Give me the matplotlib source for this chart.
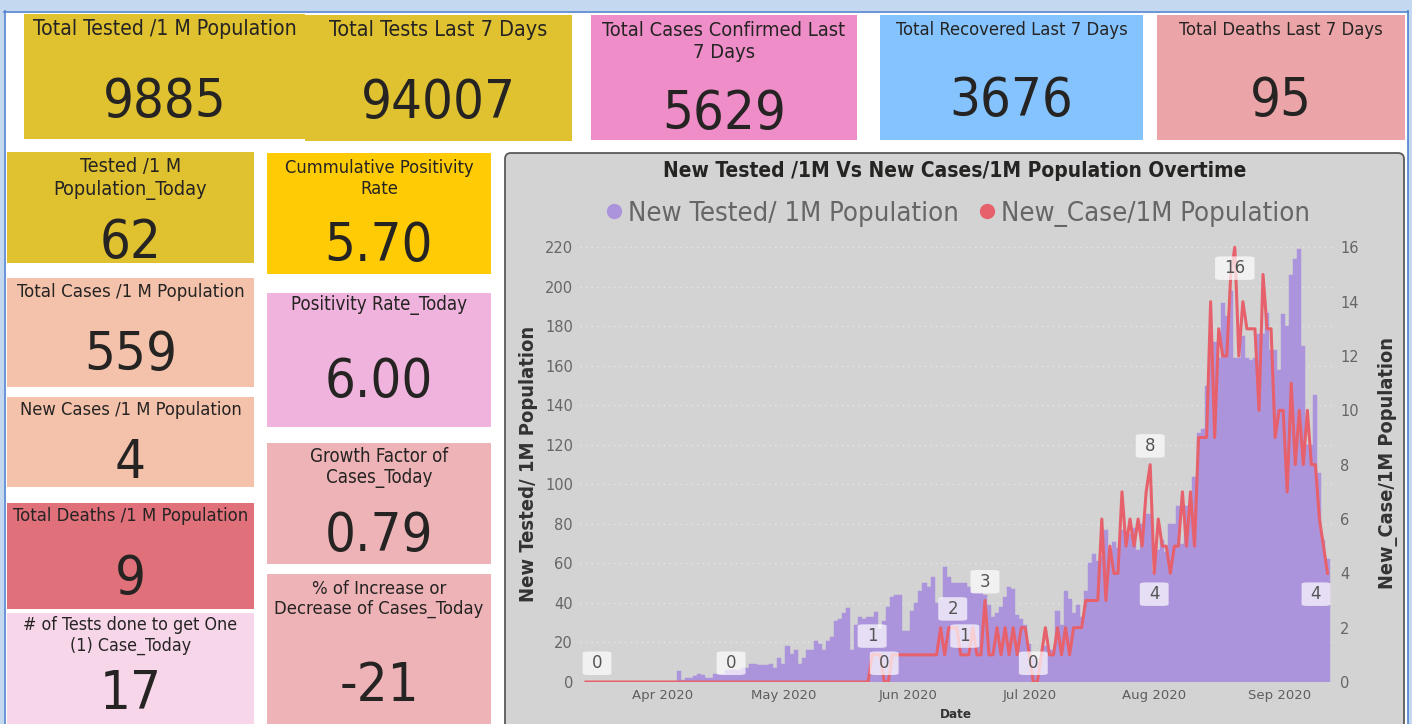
import matplotlib
matplotlib.use('Agg')
import matplotlib.pyplot as plt
import matplotlib.dates as mdates
import matplotlib.font_manager as fm
from matplotlib.patches import Rectangle, FancyBboxPatch
from matplotlib.lines import Line2D
import pandas as pd

# ---------------- data ----------------
start_date = '2020-03-13'

new_tested_per_1m = [
    0, 0, 0, 0, 0, 0, 0, 0, 0, 0,
    0, 0, 0, 0, 0, 0, 0, 0, 0, 0,
    0, 0, 0, 5.5, 1, 2, 2, 3, 4, 3.5,
    2, 2, 4, 4, 4, 6, 6, 6, 6, 7,
    7, 9, 9, 8.5, 8.5, 8.5, 9, 7, 12, 9,
    18, 14, 16, 9, 12, 16, 16, 21, 19, 16,
    21, 23, 31, 32, 35, 37.5, 16, 29, 33, 32,
    33, 33, 35.5, 27, 31, 38, 43, 44, 44, 26,
    26, 36, 40, 46, 50, 48, 53, 40, 42, 58,
    53, 50, 50, 50, 50, 48, 45, 45, 45, 44,
    39, 33, 35, 38, 43, 48, 47, 34, 32, 29,
    19, 12, 10, 12, 18, 16, 16, 36, 29, 46,
    42, 35, 39, 33, 46, 60, 65, 61, 64, 77,
    67, 71, 68, 77, 73, 75, 78, 67, 80, 85,
    85, 56, 67, 72, 66, 80, 80, 89, 70, 89,
    89, 104, 126, 128, 150, 172, 172, 164, 192, 185,
    198, 164, 164, 175, 164, 163, 164, 176, 176, 187,
    168, 168, 158, 186, 180, 206, 214, 219, 170, 120,
    120, 145, 106, 72, 62,
]

new_cases_per_1m = [
    0, 0, 0, 0, 0, 0, 0, 0, 0, 0,
    0, 0, 0, 0, 0, 0, 0, 0, 0, 0,
    0, 0, 0, 0, 0, 0, 0, 0, 0, 0,
    0, 0, 0, 0, 0, 0, 0, 0, 0, 0,
    0, 0, 0, 0, 0, 0, 0, 0, 0, 0,
    0, 0, 0, 0, 0, 0, 0, 0, 0, 0,
    0, 0, 0, 0, 0, 0, 0, 0, 0, 0,
    0, 1, 1, 1, 0, 0, 1, 1, 1, 1,
    1, 1, 1, 1, 1, 1, 1, 1, 2, 1,
    2, 2, 2, 1, 1, 1, 2, 1, 1, 3,
    1, 1, 2, 1, 2, 1, 2, 1, 2, 2,
    1, 0, 0, 1, 2, 1, 1, 2, 1, 2,
    1, 2, 2, 2, 3, 3, 3, 3, 6, 3,
    5, 4, 4, 7, 5, 6, 5, 6, 5, 7,
    8, 4, 6, 5, 5, 4, 5, 5, 7, 5,
    7, 5, 9, 9, 9, 14, 9, 13, 12, 12,
    15, 16, 12, 14, 13, 13, 13, 10, 15, 13,
    13, 9, 10, 10, 7, 11, 8, 10, 8, 10,
    8, 8, 6, 5, 4,
]

labelled_points = [0, 36, 71, 74, 91, 94, 99, 111, 140, 141, 161, 184]

left_ticks = [0, 20, 40, 60, 80, 100, 120, 140, 160, 180, 200, 220]
right_ticks = [0, 2, 4, 6, 8, 10, 12, 14, 16]

kpi_titles = [
    "Total Tested /1 M Population",
    "Total Tests Last 7 Days",
    "Total Cases Confirmed Last\n7 Days",
    "Total Recovered Last 7 Days",
    "Total Deaths Last 7 Days",
    "Tested /1 M\nPopulation_Today",
    "Total Cases /1 M Population",
    "New Cases /1 M Population",
    "Total Deaths /1 M Population",
    "# of Tests done to get One\n(1) Case_Today",
    "Cummulative Positivity\nRate",
    "Positivity Rate_Today",
    "Growth Factor of\nCases_Today",
    "% of Increase or\nDecrease of Cases_Today",
]
kpi_values = ["9885", "94007", "5629", "3676", "95", "62", "559", "4", "9",
              "17", "5.70", "6.00", "0.79", "-21"]

chart_title = "New Tested /1M Vs New Cases/1M Population Overtime"
series_names = ["New Tested/ 1M Population", "New_Case/1M Population"]
axis_titles = ["New Tested/ 1M Population", "New_Case/1M Population", "Date"]

# ---------------- fonts ----------------
def pick_font():
    fl = fm.fontManager.ttflist
    for f in fl:
        if f.name == 'DejaVu Sans' and str(f.stretch) in ('condensed', 'semi-condensed'):
            return dict(family='DejaVu Sans', stretch='condensed'), True
    names = {f.name for f in fl}
    if 'Liberation Sans Narrow' in names:
        return dict(family='Liberation Sans Narrow'), True
    return dict(family='DejaVu Sans'), False

FONT, CONDENSED = pick_font()

# ---------------- canvas ----------------
W, H = 1412, 724
fig = plt.figure(figsize=(W / 100, H / 100), dpi=100)
fig.patch.set_facecolor('white')
L = fig.add_axes([0, 0, 1, 1])
L.set_xlim(0, W)
L.set_ylim(H, 0)
L.axis('off')
R = fig.canvas.get_renderer()

DARK = '#252423'
GREY = '#666666'


def size_for_width(s, target, weight='normal'):
    t = L.text(0, 0, s, fontsize=20, weight=weight, **FONT)
    w = t.get_window_extent(R).width
    t.remove()
    return 20.0 * target / w


def cap_text(x, yc, s, size, color=DARK, weight='normal'):
    cap = 0.73 * size * 100 / 72
    L.text(x, yc + cap / 2, s, ha='center', va='baseline', fontsize=size,
           color=color, weight=weight, **FONT)


# outer frame
FRAME_LIGHT = '#C4D8EF'
FRAME_LINE = '#4F81CE'
L.add_patch(Rectangle((0, 0), W, 11, fc=FRAME_LIGHT, ec='none'))
L.add_patch(Rectangle((0, 0), 4, H, fc=FRAME_LIGHT, ec='none'))
L.add_patch(Rectangle((1408, 0), 4, H, fc=FRAME_LIGHT, ec='none'))
L.plot([4, 1408], [11.5, 11.5], color=FRAME_LINE, lw=1.2)
L.plot([4.5, 4.5], [11, H], color=FRAME_LINE, lw=1.2)
L.plot([1408, 1408], [11, H], color=FRAME_LINE, lw=1.2)

# KPI cards
GOLD = '#E0C130'
cards = [
    ((24, 14, 305, 139), GOLD, [27], 263, 97),
    ((305, 15, 572, 141), GOLD, [28], 217, 98),
    ((591, 15, 857, 140), '#EE8DC8', [29, 50.5], 242, 109),
    ((880, 15, 1143, 140), '#85C3FF', [28], 231, 96),
    ((1157, 15, 1405, 140), '#EBA5A9', [28], 203, 96),
    ((7, 152, 254, 263), GOLD, [165, 188], 153, 238),
    ((7, 278, 254, 387), '#F4C1AA', [290], 226, 350.5),
    ((7, 397, 254, 487), '#F4C1AA', [408], 222, 458.5),
    ((7, 503, 254, 609), '#E0707A', [514], 234, 574.5),
    ((7, 613, 254, 730), '#F7D6EA', [624, 644], 213, 689),
    ((267, 153, 491, 274), '#FFCB05', [166, 187], 189, 241.5),
    ((267, 293, 491, 427), '#F0B3DD', [303], 175, 377),
    ((267, 443, 491, 564), '#EEB3B7', [455, 476], 138, 531.5),
    ((267, 574, 491, 730), '#EEB3B7', [587, 607], 209, 681),
]
NUM_SIZE = 39 if CONDENSED else 37
for (box, col, tys, tw, vy), title, val in zip(cards, kpi_titles, kpi_values):
    x0, y0, x1, y1 = box
    L.add_patch(Rectangle((x0, y0), x1 - x0, y1 - y0, fc=col, ec='none'))
    xc = (x0 + x1) / 2
    lines = title.split('\n')
    widest = max(lines, key=lambda s: 1.0 / size_for_width(s, 100))
    ts = size_for_width(widest, tw)
    for line, ty in zip(lines, tys):
        cap_text(xc, ty, line, ts)
    cap_text(xc, vy, val, NUM_SIZE)

# chart panel
L.add_patch(FancyBboxPatch((505, 153), 1404 - 505, 600, boxstyle='round,pad=0,rounding_size=6',
                           fc='#D3D3D3', ec='#5A5A5A', lw=1.3))

L.text(955, 171, chart_title, ha='center', va='center', color=DARK, weight='bold',
       fontsize=size_for_width(chart_title, 585, 'bold'), **FONT)
L.text(528, 464, axis_titles[0], rotation=90, ha='center', va='center',
       color='#333333', weight='bold', fontsize=size_for_width(axis_titles[0], 277, 'bold'), **FONT)
L.text(1388, 463, axis_titles[1], rotation=90, ha='center', va='center',
       color='#333333', weight='bold', fontsize=size_for_width(axis_titles[1], 253, 'bold'), **FONT)
L.text(956, 714, axis_titles[2], ha='center', va='center', color='#333333', weight='bold',
       fontsize=size_for_width(axis_titles[2], 32, 'bold'), **FONT)

# ---------------- chart ----------------
BAR = '#AC94DC'
LINE = '#E6616C'
dates = pd.date_range(start_date, periods=len(new_tested_per_1m), freq='D')
xd = mdates.date2num(dates)

ax_l, ax_r, ax_b, ax_t = 580, 1333, 682, 240
ax = fig.add_axes([ax_l / W, 1 - ax_b / H, (ax_r - ax_l) / W, (ax_b - ax_t) / H])
ax.set_facecolor('none')
px_per_day = 4.03
ax.set_xlim(xd[0] - (586 - ax_l) / px_per_day, xd[-1] + (ax_r - 1327.5) / px_per_day)
ymax = 220 * (ax_b - ax_t) / (682 - 247.3)
ax.set_ylim(0, ymax)
ax.bar(xd, new_tested_per_1m, width=1.0, color=BAR, edgecolor=BAR, linewidth=0.3, zorder=2)
ax.set_yticks(left_ticks)
ax.grid(axis='y', linestyle=(0, (1, 3)), color='#E6E6E6', lw=1.0, zorder=0)
ax.set_axisbelow(True)
for s in ax.spines.values():
    s.set_visible(False)
ax.xaxis.set_major_locator(mdates.MonthLocator())
ax.xaxis.set_major_formatter(mdates.DateFormatter('%b %Y'))
ax.tick_params(axis='x', length=0, pad=5, labelsize=9.5, labelcolor='#605E5C')
ax.tick_params(axis='y', length=0, pad=5, labelsize=10.5, labelcolor=GREY)
for lab in ax.get_xticklabels() + ax.get_yticklabels():
    lab.set_fontfamily(FONT['family'])

ax2 = ax.twinx()
ax2.set_ylim(0, 16 * ymax / 220)
ax2.plot(xd, new_cases_per_1m, color=LINE, lw=2.2, solid_joinstyle='round', zorder=3)
ax2.set_yticks(right_ticks)
ax2.tick_params(axis='y', length=0, pad=5, labelsize=10.5, labelcolor=GREY)
for lab in ax2.get_yticklabels():
    lab.set_fontfamily(FONT['family'])
for s in ax2.spines.values():
    s.set_visible(False)

below = {141, 161, 184}
xl0, xl1 = ax.get_xlim()
for i in labelled_points:
    v = new_cases_per_1m[i]
    dy = -15 if i in below else 13.5
    px = ax_l + (xd[i] - xl0) / (xl1 - xl0) * (ax_r - ax_l)
    shift = min(0, (ax_r - 1) - (px + 16)) + max(0, (ax_l + 1) - (px - 16))
    ax2.annotate(f'{v:g}', (xd[i], v), xytext=(shift * 0.72, dy), textcoords='offset points',
                 ha='center', va='center', fontsize=12, color='#555555', zorder=5,
                 annotation_clip=False,
                 bbox=dict(boxstyle='round,pad=0.55,rounding_size=0.35', fc='white', ec='none',
                           alpha=0.7, mutation_aspect=0.3))

# legend
handles = [Line2D([], [], marker='o', ls='', color=BAR, ms=10),
           Line2D([], [], marker='o', ls='', color=LINE, ms=10)]
leg_size = size_for_width(series_names[0], 330)
fig.legend(handles, series_names, loc='center', bbox_to_anchor=(956 / W, 1 - 214 / H),
           ncol=2, frameon=False, handletextpad=0.05, columnspacing=0.6, handlelength=0.9,
           borderaxespad=0, prop=dict(size=leg_size, **FONT), labelcolor='#666666')

fig.savefig('out.png', dpi=100, facecolor='white')
